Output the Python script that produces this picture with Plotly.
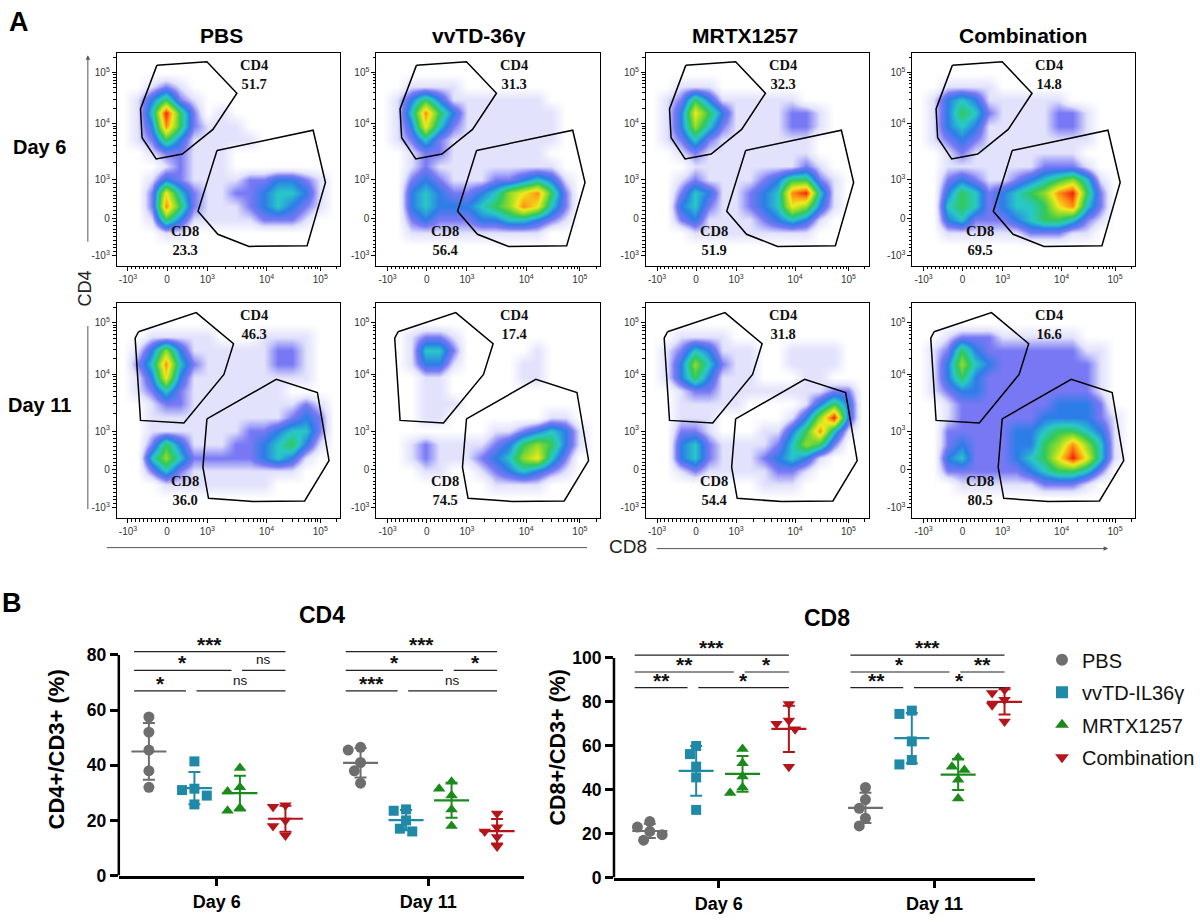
import numpy as np
import plotly.graph_objects as go

W, H = 1200, 922

# ---------------- panel A data ----------------
TREATMENTS = ["PBS", "vvTD-36γ", "MRTX1257", "Combination"]
DAYS = ["Day 6", "Day 11"]
CD4_GATE_PCT = [[51.7, 31.3, 32.3, 14.8], [46.3, 17.4, 31.8, 16.6]]
CD8_GATE_PCT = [[23.3, 56.4, 51.9, 69.5], [36.0, 74.5, 54.4, 80.5]]

# gate vertices in display units (0-100 across each panel), one gate set per day
CD4_GATE_X = [[17.9, 40.3, 53.7, 43.0, 29.3, 17.6, 11.3, 10.6],
              [9.7, 35.5, 52.2, 47.9, 30.0, 10.6, 8.2]]
CD4_GATE_Y = [[94.3, 96.0, 81.2, 64.2, 52.6, 50.3, 60.3, 73.8],
              [86.8, 95.7, 81.2, 66.9, 44.3, 45.5, 83.8]]
CD8_GATE_X = [[44.8, 87.8, 93.3, 85.1, 59.1, 45.2, 36.3],
              [40.3, 71.3, 89.7, 94.9, 84.0, 60.9, 41.0, 38.5]]
CD8_GATE_Y = [[54.3, 63.8, 39.2, 9.5, 9.2, 14.9, 25.7],
              [46.2, 64.6, 58.5, 26.8, 8.0, 7.7, 9.2, 23.7]]

FLOW_TICK_POS = [5, 22.5, 40.5, 67, 91]
FLOW_TICK_TEXT = ["-10<sup>3</sup>", "0", "10<sup>3</sup>", "10<sup>4</sup>", "10<sup>5</sup>"]

# event density (16x16 cells, top row first, 0 = empty .. 9 = red)
DENSITY_D6 = [
    ["0000000000000000", "0000000000000000", "0012100000000000", "0135210000000000",
     "0149520100000000", "0138521110000000", "0125311111000000", "0012211100000000",
     "0001211100000000", "0013211112233210", "0027421122344310", "0028521112343210",
     "0015311111222100", "0001100000000000", "0000000000000000", "0000000000000000"],
    ["0000000000000000", "0000000000000000", "0011110000000000", "0135311111110000",
     "0148531111111000", "0137421111111000", "0124211111111000", "0012211111110000",
     "0012111111111000", "0023211122343100", "0034322346785200", "0034333456874200",
     "0023222334432100", "0011111111110000", "0000000000000000", "0000000000000000"],
    ["0000000000000000", "0000000000000000", "0011100000000000", "0125311111100000",
     "0137531111221000", "0136421111221000", "0124211111110000", "0012111111110000",
     "0001111111121000", "0012111123552100", "0024311234894100", "0034211234763100",
     "0023111123431000", "0001111111110000", "0000000000000000", "0000000000000000"],
    ["0000000000000000", "0000000000000000", "0011110000000000", "0134311111100000",
     "0135421111221000", "0134311111221000", "0123211111111000", "0012111111110000",
     "0011111112221000", "0023211234564100", "0035423456895200", "0045423445784200",
     "0034222345542100", "0011111122211000", "0000000000000000", "0000000000000000"],
]
DENSITY_D11 = [
    ["0000000000000000", "0000000000000000", "0011111000111100", "0136311111122100",
     "0248421111122100", "0137311111111100", "0124211111110000", "0012211111111210",
     "0011111111112320", "0011111112234420", "0025311122345310", "0046422222343100",
     "0024211111111000", "0001111111100000", "0000000000000000", "0000000000000000"],
    ["0000000000000000", "0000000000000000", "0012210000000000", "0014420000010000",
     "0013310000110000", "0001100000110000", "0001100000000000", "0001110000000000",
     "0001100000001100", "0000000011234310", "0012111123565310", "0012111234674200",
     "0001100123432100", "0000000011110000", "0000000000000000", "0000000000000000"],
    ["0000000000000000", "0000000000000000", "0011110000000000", "0124311100111100",
     "0136421100111100", "0135311100011000", "0012211111111220", "0011111000013530",
     "0011100000136930", "0022100011358410", "0034211112465200", "0034211123431000",
     "0012111112210000", "0000000011100000", "0000000000000000", "0000000000000000"],
    ["0000000000000000", "0000000000000000", "0012221111110000", "0125322222221100",
     "0136432222222100", "0135322222222100", "0123322222222100", "0012222222333200",
     "0012222223333210", "0022222334554310", "0023222335686410", "0034222345797410",
     "0022222234554200", "0001111112221000", "0000000000000000", "0000000000000000"],
]
DENSITY = [DENSITY_D6, DENSITY_D11]

# ---------------- panel B data ----------------
GROUPS = ["PBS", "vvTD-IL36γ", "MRTX1257", "Combination"]
CD4_DAY6 = [[57.5, 52, 45.5, 38, 32], [41.4, 31, 31.5, 29, 25.8],
            [39, 32, 30.5, 24.5, 23.5], [25.5, 25, 20, 18, 14.5]]
CD4_DAY11 = [[45.5, 46.5, 41, 38, 33.5], [24, 23.5, 20, 17, 16],
             [34, 31.5, 29, 24, 18], [22.5, 17.5, 16, 14, 10.5]]
CD8_DAY6 = [[25.5, 23, 21, 19.5, 17], [59.9, 56.2, 50.5, 45.6, 30.8],
            [58.5, 52, 46, 41, 38.5], [79, 71.5, 70, 67.5, 50.5]]
CD8_DAY11 = [[41, 35.5, 31.5, 27, 23.5], [76, 74.5, 62, 53.5, 51.5],
             [54.5, 50.5, 49, 44.5, 36], [85.5, 84, 81, 78.5, 71]]

# (day, group a, group b, bracket row, label)
CD4_SIG = [(0, 0, 3, 0, "***"), (0, 0, 2, 1, "*"), (0, 2, 3, 1, "ns"), (0, 0, 1, 2, "*"), (0, 1, 3, 2, "ns"),
           (1, 0, 3, 0, "***"), (1, 0, 2, 1, "*"), (1, 2, 3, 1, "*"), (1, 0, 1, 2, "***"), (1, 1, 3, 2, "ns")]
CD8_SIG = [(0, 0, 3, 0, "***"), (0, 0, 2, 1, "**"), (0, 2, 3, 1, "*"), (0, 0, 1, 2, "**"), (0, 1, 3, 2, "*"),
           (1, 0, 3, 0, "***"), (1, 0, 2, 1, "*"), (1, 2, 3, 1, "**"), (1, 0, 1, 2, "**"), (1, 1, 3, 2, "*")]
CD4_SIG_LEVELS = [81.2, 74.4, 67.0]
CD8_SIG_LEVELS = [101.3, 93.6, 86.5]

# ---------------- styling ----------------
FONT = "Liberation Sans, Arial, sans-serif"
SERIF = "Liberation Serif, Times New Roman, serif"
COL_PX = [(117, 341), (377, 601), (647, 870), (914, 1137)]
ROW_PX = [(50, 266), (304, 522)]
DENSITY_SCALE = [
    [0.0, "rgb(255,255,255)"], [1 / 9, "rgb(226,226,252)"], [2 / 9, "rgb(120,120,244)"],
    [3 / 9, "rgb(45,125,232)"], [4 / 9, "rgb(40,200,200)"], [5 / 9, "rgb(50,200,90)"],
    [6 / 9, "rgb(150,220,40)"], [7 / 9, "rgb(240,235,30)"], [8 / 9, "rgb(255,140,20)"],
    [1.0, "rgb(240,30,10)"],
]
GROUP_COLORS = ["#6e6e6e", "#2189a8", "#1b8a1b", "#b3151a"]
GROUP_SYMBOLS = ["circle", "square", "triangle-up", "triangle-down"]
GROUP_OFFSET = [-0.32, -0.105, 0.11, 0.325]

# minor ticks of the biexponential flow axes
minor_ticks = [5 + 17.5 * k / 10 for k in range(1, 10)] + [22.5 + 18 * k / 10 for k in range(1, 10)]
for p0, p1 in ((40.5, 67), (67, 91)):
    minor_ticks += [p0 + (p1 - p0) * np.log10(k) for k in range(2, 10)]
minor_ticks.append(91 + 24 * np.log10(2))


def px_x(p):
    return p / W


def px_y(p):
    return 1 - p / H


def paper_text(x, y, text, size, angle=0, color="black"):
    return dict(x=px_x(x), y=px_y(y), xref="paper", yref="paper", text=text,
                xanchor="center", yanchor="middle", textangle=angle, showarrow=False,
                font=dict(family=FONT, size=size, color=color))


def swarm(vals, ppx, ppy, diam=10.0):
    # simple beeswarm so overlapping dots sit side by side
    offs = [0.0] * len(vals)
    placed = []
    for i in sorted(range(len(vals)), key=lambda k: -vals[k]):
        for k in (0, -1, 1, -2, 2):
            dx = k * 0.62 * diam
            if all(np.hypot(dx - pdx, (vals[i] - pv) * ppy) >= 0.95 * diam for pdx, pv in placed):
                break
        placed.append((dx, vals[i]))
        offs[i] = dx / ppx
    return offs


fig = go.Figure()
annotations = []
shapes = []
axes = {}

# ---------------- panel A: flow dot plots ----------------
for d in range(2):
    for c in range(4):
        n = d * 4 + c + 1
        sfx = "" if n == 1 else str(n)
        left, right = COL_PX[c]
        top, bottom = ROW_PX[d]
        z = [[int(ch) for ch in row] for row in reversed(DENSITY[d][c])]
        fig.add_trace(go.Heatmap(
            z=z, x0=3.125, dx=6.25, y0=3.125, dy=6.25, zmin=0, zmax=9,
            colorscale=DENSITY_SCALE, zsmooth="best", showscale=False,
            hoverinfo="skip", xaxis="x" + sfx, yaxis="y" + sfx,
        ))
        for gx, gy in ((CD4_GATE_X[d], CD4_GATE_Y[d]), (CD8_GATE_X[d], CD8_GATE_Y[d])):
            fig.add_trace(go.Scatter(
                x=gx + gx[:1], y=gy + gy[:1], mode="lines",
                line=dict(color="black", width=1.5), showlegend=False,
                hoverinfo="skip", xaxis="x" + sfx, yaxis="y" + sfx,
            ))
        common = dict(
            range=[0, 100], showline=True, mirror=True, linecolor="black", linewidth=1,
            ticks="outside", ticklen=4, tickcolor="black", tickvals=FLOW_TICK_POS,
            ticktext=FLOW_TICK_TEXT, tickfont=dict(family=FONT, size=10, color="#333"),
            showgrid=False, zeroline=False,
            minor=dict(tickvals=minor_ticks, ticks="outside", ticklen=2.5,
                       tickcolor="black", showgrid=False),
        )
        axes["xaxis" + sfx] = dict(common, domain=[px_x(left), px_x(right)], anchor="y" + sfx)
        axes["yaxis" + sfx] = dict(common, domain=[px_y(bottom), px_y(top)], anchor="x" + sfx)

        gate_lbl = [(61.5, 90.0 if d == 0 else 90.3, "CD4", CD4_GATE_PCT[d][c]),
                    (30.5, 11.8 if d == 0 else 13.0, "CD8", CD8_GATE_PCT[d][c])]
        for gx, gy, name, pct in gate_lbl:
            annotations.append(dict(
                x=gx, y=gy, xref="x" + sfx, yref="y" + sfx, showarrow=False,
                xanchor="center", yanchor="middle",
                text=f"<b>{name}<br>{pct:.1f}</b>", align="center",
                font=dict(family=SERIF, size=14.5, color="#111"),
            ))

col_centers = [222, 480, 746, 1025]
for c, name in enumerate(TREATMENTS):
    annotations.append(paper_text(col_centers[c], 32, f"<b>{name}</b>", 21))
for name, yc in zip(DAYS, [145, 407]):
    annotations.append(paper_text(40, yc, f"<b>{name}</b>", 20))

annotations += [
    paper_text(19, 18, "<b>A</b>", 27),
    paper_text(12, 608, "<b>B</b>", 27),
    paper_text(85, 289, "CD4", 18, angle=-90, color="#222"),
    paper_text(629, 551, "CD8", 19, color="#222"),
    # axis arrows
    dict(x=px_x(88), y=px_y(52), xref="paper", yref="paper", ax=0, ay=188, text="",
         showarrow=True, arrowhead=2, arrowsize=0.9, arrowwidth=1, arrowcolor="#555"),
    dict(x=px_x(1110), y=px_y(553), xref="paper", yref="paper", ax=-453, ay=0, text="",
         showarrow=True, arrowhead=2, arrowsize=0.9, arrowwidth=1, arrowcolor="#555"),
]
shapes += [
    dict(type="line", xref="paper", yref="paper", x0=px_x(88), x1=px_x(88),
         y0=px_y(327), y1=px_y(513), line=dict(color="#555", width=1)),
    dict(type="line", xref="paper", yref="paper", x0=px_x(107), x1=px_x(588),
         y0=px_y(552), y1=px_y(552), line=dict(color="#555", width=1)),
]

# ---------------- panel B: dot plots ----------------
plots_b = [
    dict(n=9, data=[CD4_DAY6, CD4_DAY11], sig=CD4_SIG, levels=CD4_SIG_LEVELS,
         xpx=(119, 525), ypx=(885, 661), top=80, yr=82.5, dtick=20,
         day_px=(217, 429), title="CD4", title_pos=(323, 620),
         ytitle="CD4+/CD3+ (%)", ytitle_pos=(57, 757), ytitle_size=22, legend=False),
    dict(n=10, data=[CD8_DAY6, CD8_DAY11], sig=CD8_SIG, levels=CD8_SIG_LEVELS,
         xpx=(615, 1037), ypx=(887, 664), top=100, yr=102.5, dtick=20,
         day_px=(720, 936), title="CD8", title_pos=(828, 623),
         ytitle="CD8+/CD3+ (%)", ytitle_pos=(558, 755), ytitle_size=21.5, legend=True),
]

for p in plots_b:
    sfx = str(p["n"])
    x0px, x1px = p["xpx"]
    y0px, ytpx = p["ypx"]
    ppy = (y0px - ytpx) / p["top"]
    ppx = p["day_px"][1] - p["day_px"][0]
    xr = [1 + (x0px - p["day_px"][0]) / ppx, 1 + (x1px - p["day_px"][0]) / ppx]
    ytop_px = y0px - p["yr"] * ppy

    for g in range(4):
        xs, ys = [], []
        mx, my, msd = [], [], []
        for d in range(2):
            vals = p["data"][d][g]
            offs = swarm(vals, ppx, ppy)
            pos = d + 1 + GROUP_OFFSET[g]
            xs += [pos + o for o in offs]
            ys += vals
            mx.append(pos)
            my.append(float(np.mean(vals)))
            msd.append(float(np.std(vals, ddof=1)))
        fig.add_trace(go.Scatter(
            x=xs, y=ys, mode="markers", name=GROUPS[g], legendgroup=GROUPS[g],
            showlegend=p["legend"], cliponaxis=False,
            marker=dict(symbol=GROUP_SYMBOLS[g], size=11 if g != 1 else 10,
                        color=GROUP_COLORS[g], line=dict(width=0)),
            xaxis="x" + sfx, yaxis="y" + sfx,
        ))
        fig.add_trace(go.Scatter(
            x=mx, y=my, mode="markers", showlegend=False, hoverinfo="skip",
            marker=dict(symbol="line-ew", size=25, color=GROUP_COLORS[g],
                        line=dict(width=2.2, color=GROUP_COLORS[g])),
            error_y=dict(type="data", array=msd, visible=True, width=6,
                         thickness=2, color=GROUP_COLORS[g]),
            xaxis="x" + sfx, yaxis="y" + sfx,
        ))

    axes["xaxis" + sfx] = dict(
        domain=[px_x(x0px), px_x(x1px)], range=xr, anchor="y" + sfx,
        tickvals=[1, 2], ticktext=DAYS, ticks="outside", ticklen=8, tickwidth=2.5,
        tickcolor="black", showline=True, linewidth=2.5, linecolor="black",
        showgrid=False, zeroline=False,
        tickfont=dict(family=FONT, size=18, color="black", weight="bold"),
    )
    axes["yaxis" + sfx] = dict(
        domain=[px_y(y0px), px_y(ytop_px)], range=[0, p["yr"]], anchor="x" + sfx,
        tickvals=list(range(0, p["top"] + 1, p["dtick"])), ticks="outside", ticklen=8,
        tickwidth=2.5, tickcolor="black", showline=False, showgrid=False, zeroline=False,
        tickfont=dict(family=FONT, size=17.5, color="black", weight="bold"),
    )
    shapes.append(dict(type="line", xref=f"x{sfx} domain", yref="y" + sfx, x0=0, x1=0,
                       y0=0, y1=p["top"], line=dict(color="black", width=2.5)))

    for d, a, b, row, label in p["sig"]:
        xa = d + 1 + GROUP_OFFSET[a] - (0.07 if a == 0 else -0.01)
        xb = d + 1 + GROUP_OFFSET[b] - (0.0 if b == 3 else 0.04)
        yv = p["levels"][row]
        shapes.append(dict(type="line", xref="x" + sfx, yref="y" + sfx, x0=xa, x1=xb,
                           y0=yv, y1=yv, line=dict(color="#222", width=1.2)))
        is_ns = label == "ns"
        annotations.append(dict(
            x=(xa + xb) / 2, y=yv, xref="x" + sfx, yref="y" + sfx,
            xanchor="center", yanchor="bottom",
            text=label if is_ns else f"<b>{label}</b>", showarrow=False,
            yshift=1 if is_ns else -6,
            font=dict(family=FONT, size=13.5 if is_ns else 21, color="#111"),
        ))

    annotations.append(paper_text(p["title_pos"][0], p["title_pos"][1],
                                  f"<b>{p['title']}</b>", 23))
    annotations.append(paper_text(p["ytitle_pos"][0], p["ytitle_pos"][1],
                                  f"<b>{p['ytitle']}</b>", p["ytitle_size"], angle=-90))

fig.update_layout(
    width=W, height=H, margin=dict(l=0, r=0, t=0, b=0),
    paper_bgcolor="white", plot_bgcolor="white",
    font=dict(family=FONT, color="black"),
    showlegend=True,
    legend=dict(x=px_x(1044), y=px_y(646), xanchor="left", yanchor="top",
                font=dict(family=FONT, size=20, color="#111"), bgcolor="rgba(0,0,0,0)",
                itemsizing="constant", tracegroupgap=3.5),
    annotations=annotations, shapes=shapes,
    **axes,
)

fig.write_html(
    "out.html",
    config={"displayModeBar": False},
    post_script=(
        "document.body.style.margin='0px';"
        "document.body.style.overflow='hidden';"
        "document.documentElement.style.overflow='hidden';"
    ),
)
